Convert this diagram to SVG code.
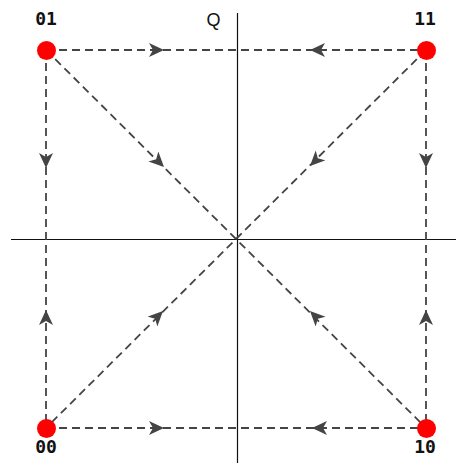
<svg xmlns="http://www.w3.org/2000/svg" width="456" height="463" viewBox="0 0 456 463">
<style>
.ax{stroke:#111;stroke-width:1.2;fill:none}
.e{stroke:#444;stroke-width:1.8;stroke-dasharray:8 5;fill:none}
.a{stroke:none;fill:none;marker-mid:url(#arr)}
.pt{fill:#ff0000}
.lbl{font-family:"DejaVu Sans Mono",monospace;font-weight:bold;font-size:18px;fill:#111;text-anchor:middle}
.q{font-family:"Liberation Sans",Arial,sans-serif;font-size:18px;fill:#111;text-anchor:middle}
</style>
<defs>
<marker id="arr" markerUnits="userSpaceOnUse" markerWidth="17" markerHeight="15" refX="15" refY="7" orient="auto">
<path d="M0,0 L15,7 L0,14 L4,7 Z" fill="#444"/>
</marker>
</defs>
<g id="axes">
<line class="ax" x1="11" y1="239.5" x2="456" y2="239.5"/>
<line class="ax" x1="237.5" y1="13" x2="237.5" y2="463"/>
<text class="q" x="213.5" y="26">Q</text>
</g>
<g id="connectors">
<line class="e" x1="46" y1="50" x2="426" y2="50"/>
<line class="e" x1="46" y1="428" x2="426" y2="428"/>
<line class="e" x1="46" y1="50" x2="46" y2="428"/>
<line class="e" x1="426" y1="50" x2="426" y2="428"/>
<line class="e" x1="46" y1="50" x2="426" y2="428"/>
<line class="e" x1="426" y1="50" x2="46" y2="428"/>
<path class="a" d="M46,50 L164,50 L426,50"/>
<path class="a" d="M426,50 L310,50 L46,50"/>
<path class="a" d="M46,428 L164,428 L426,428"/>
<path class="a" d="M426,428 L312,428 L46,428"/>
<path class="a" d="M46,50 L46,168 L46,428"/>
<path class="a" d="M46,428 L46,310 L46,50"/>
<path class="a" d="M426,50 L426,168 L426,428"/>
<path class="a" d="M426,428 L426,310 L426,50"/>
<path class="a" d="M46,50 L164,167 L426,428"/>
<path class="a" d="M426,50 L310,166 L46,428"/>
<path class="a" d="M46,428 L163,311 L426,50"/>
<path class="a" d="M426,428 L310,311 L46,50"/>
</g>
<g id="n01"><circle class="pt" cx="46.5" cy="50.5" r="9.5"/><text class="lbl" x="46" y="25">01</text></g>
<g id="n11"><circle class="pt" cx="426.5" cy="50.5" r="9.5"/><text class="lbl" x="425" y="25">11</text></g>
<g id="n00"><circle class="pt" cx="46.5" cy="428.5" r="9.5"/><text class="lbl" x="46" y="453">00</text></g>
<g id="n10"><circle class="pt" cx="426.5" cy="428.5" r="9.5"/><text class="lbl" x="425" y="453">10</text></g>
</svg>
